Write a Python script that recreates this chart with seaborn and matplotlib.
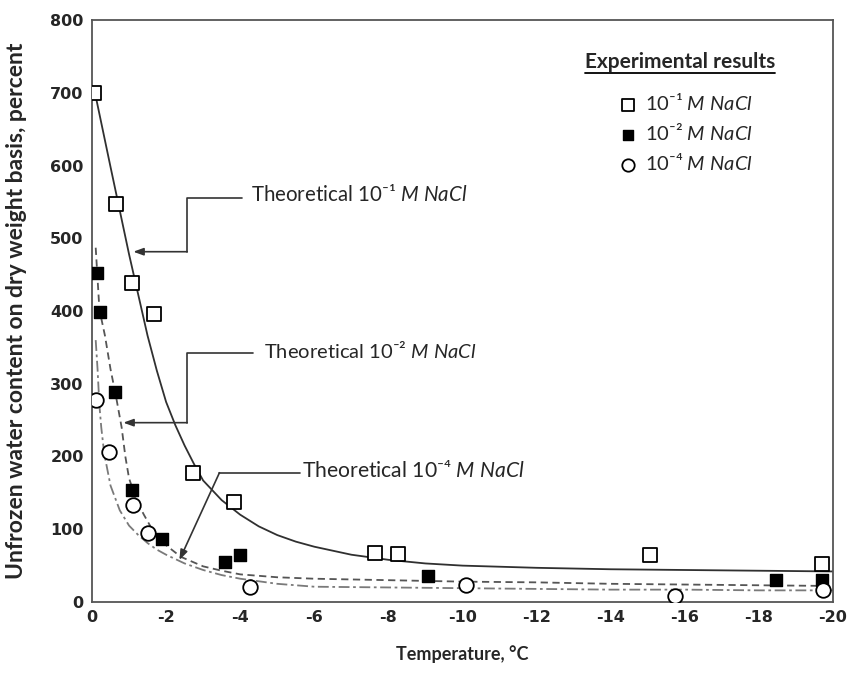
import matplotlib
matplotlib.use("Agg")
import matplotlib.pyplot as plt
import seaborn as sns
from matplotlib.lines import Line2D

# experimental points (temperature in deg C, water content %)
t_m1 = [-0.05, -0.64, -1.07, -1.67, -2.72, -3.83, -7.64, -8.27, -15.05, -19.7]
w_m1 = [700, 547, 438, 396, 178, 137, 68, 66, 65, 52]

t_m2 = [-0.13, -0.22, -0.62, -1.07, -1.9, -3.59, -4.0, -9.08, -18.46, -19.7]
w_m2 = [452, 398, 289, 154, 87, 55, 65, 36, 30, 30]

t_m4 = [-0.1, -0.46, -1.12, -1.52, -4.26, -10.1, -15.74, -19.74]
w_m4 = [277, 206, 133, 95, 21, 23, 8, 16]

# theoretical curves
ct_m1 = [-0.08, -0.5, -1.0, -1.5, -1.75, -2.0, -2.25, -2.5, -2.75, -3.0, -3.5, -4.0, -4.5,
         -5.0, -5.5, -6.0, -7.0, -8.0, -9.0, -10, -12, -14, -16, -18, -20]
cw_m1 = [700, 598, 478, 366, 318, 275, 243, 215, 190, 167, 140, 120, 104,
         92, 83, 76, 65, 58, 53, 50, 47, 45, 44, 43, 42]

ct_m2 = [-0.1, -0.2, -0.35, -0.5, -0.65, -0.8, -0.9, -1.0, -1.2, -1.4, -1.6, -1.8, -2.0,
         -2.4, -3.0, -3.5, -4.0, -5.0, -6.0, -8.0, -10, -12, -14, -16, -18, -20]
cw_m2 = [487, 402, 366, 320, 282, 240, 200, 170, 140, 120, 102, 87, 78,
         62, 49, 43, 38, 34, 32, 30, 28, 27, 25, 24, 23, 22]

ct_m4 = [-0.1, -0.15, -0.2, -0.25, -0.33, -0.5, -0.75, -1.0, -1.25, -1.5, -1.75, -2.0,
         -2.5, -3.0, -3.5, -4.0, -5.0, -6.0, -8.0, -10, -12, -14, -16, -18, -20]
cw_m4 = [360, 320, 270, 240, 204, 160, 126, 105, 92, 81, 72, 65,
         53, 44, 37, 32, 25, 21, 20, 19, 18, 17, 17, 16, 16]

xticks = list(range(0, -21, -2))
yticks = list(range(0, 801, 100))

lab1 = "10\u207b\u00b9 $\\mathit{M\\ NaCl}$"
lab2 = "10\u207b\u00b2 $\\mathit{M\\ NaCl}$"
lab4 = "10\u207b\u2074 $\\mathit{M\\ NaCl}$"

sns.set_style("white")
plt.rcParams['font.family'] = ['Lato', 'DejaVu Sans']
plt.rcParams['mathtext.fontset'] = 'custom'
plt.rcParams['mathtext.rm'] = 'Lato'
plt.rcParams['mathtext.it'] = 'Lato:italic'
plt.rcParams['mathtext.bf'] = 'Lato:bold'
plt.rcParams['axes.unicode_minus'] = False

fig = plt.figure(figsize=(8.5, 6.8), dpi=100)
ax = fig.add_axes([92 / 850, 78 / 680, 741 / 850, 582 / 680])

# theory lines
sns.lineplot(x=ct_m1, y=cw_m1, ax=ax, color="#303030", lw=1.3, sort=False,
             estimator=None, label="_nolegend_")
sns.lineplot(x=ct_m2, y=cw_m2, ax=ax, color="#555555", lw=1.3, sort=False,
             estimator=None, linestyle=(0, (4, 2.5)), label="_nolegend_")
sns.lineplot(x=ct_m4, y=cw_m4, ax=ax, color="#7a7a7a", lw=1.3, sort=False,
             estimator=None, linestyle=(0, (6, 2, 1.5, 2)), label="_nolegend_")

# measured points
sns.scatterplot(x=t_m1, y=w_m1, ax=ax, marker="s", s=105, facecolor="white",
                edgecolor="black", linewidth=1.3, label=lab1, zorder=3)
sns.scatterplot(x=t_m2, y=w_m2, ax=ax, marker="s", s=70, color="black",
                edgecolor="black", linewidth=1, label=lab2, zorder=3)
sns.scatterplot(x=t_m4, y=w_m4, ax=ax, marker="o", s=110, facecolor="white",
                edgecolor="black", linewidth=1.3, label=lab4, zorder=3)

ax.set_xlim(0, -20)
ax.set_ylim(0, 800)
ax.set_xticks(xticks)
ax.set_yticks(yticks)
ax.set_xticklabels([str(v) for v in xticks], fontfamily="DejaVu Sans", fontweight="bold", fontsize=11.5)
ax.set_yticklabels([str(v) for v in yticks], fontfamily="DejaVu Sans", fontweight="bold", fontsize=11.5)
ax.tick_params(axis="y", direction="in", length=9.5, width=1.5, color="#777777", pad=6)
ax.tick_params(axis="x", direction="in", length=11, width=1.5, color="#555555", pad=6)
for sp in ax.spines.values():
    sp.set_color("#555555")
    sp.set_linewidth(1.3)

ax.set_xlabel("Temperature, \u00b0C", fontsize=13, fontweight="bold", labelpad=14)
ax.set_ylabel("Unfrozen water content on dry weight basis, percent", fontsize=16.5,
              fontweight="bold")
ax.yaxis.set_label_coords(-0.088, 0.5)

# callouts
arr = dict(arrowstyle="-|>,head_length=0.6,head_width=0.22", color="#333333", lw=1.2,
           shrinkA=0, shrinkB=0)
seg = dict(color="#333333", lw=1.2)

ax.plot([-4.04, -2.57, -2.57], [556, 556, 481.5], **seg)
ax.annotate("", xy=(-1.115, 481.5), xytext=(-2.57, 481.5), arrowprops=arr)
ax.text(-4.3, 560, "Theoretical 10\u207b\u00b9 $\\mathit{M\\ NaCl}$", fontsize=14.8,
        va="center", ha="left")

ax.plot([-4.35, -2.57, -2.57], [342, 342, 246.5], **seg)
ax.annotate("", xy=(-0.845, 246.5), xytext=(-2.57, 246.5), arrowprops=arr)
ax.text(-4.65, 346, "Theoretical 10\u207b\u00b2 $\\mathit{M\\ NaCl}$", fontsize=14.5,
        va="center", ha="left")

ax.plot([-5.61, -3.44], [177.7, 177.7], **seg)
ax.annotate("", xy=(-2.36, 57.7), xytext=(-3.44, 177.7), arrowprops=arr)
ax.text(-5.68, 181, "Theoretical 10\u207b\u2074 $\\mathit{M\\ NaCl}$", fontsize=15.2,
        va="center", ha="left")

# legend: title as separate underlined text, entries below
ttl = ax.text(0.7935, 0.928, "Experimental results", transform=ax.transAxes, fontsize=15,
              fontweight="bold", ha="center", va="center")
leg = ax.legend(loc="upper left", bbox_to_anchor=(0.695, 0.893), frameon=False,
                fontsize=14.5, borderpad=0, handletextpad=0.3, labelspacing=0.45,
                handlelength=1.1, markerscale=0.85)

fig.canvas.draw()
bb = ttl.get_window_extent()
fig.add_artist(Line2D([bb.x0, bb.x1], [bb.y0 - 1, bb.y0 - 1], transform=None,
                      color="black", lw=1.3))

fig.savefig("out.png", dpi=100)
